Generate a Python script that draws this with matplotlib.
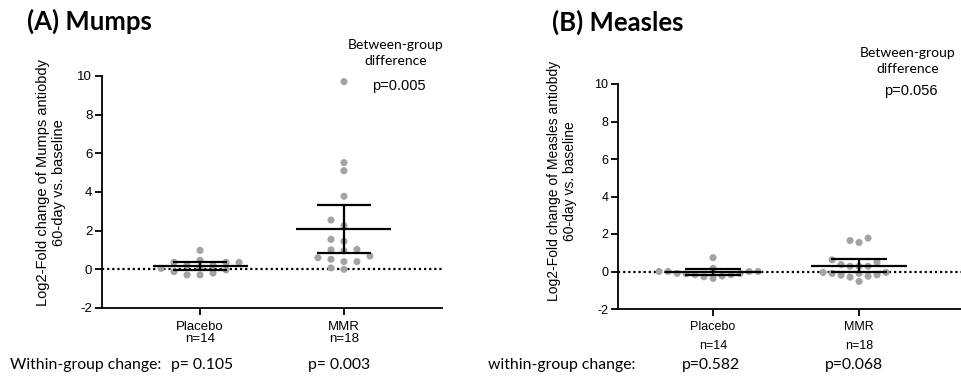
import numpy as np
import matplotlib.pyplot as plt

# === Daten ===
groups = ['Placebo', 'MMR']
n_labels = ['n=14', 'n=18']

mumps_placebo = [0.36, 0.47, 0.09, -0.29, 0.36, -0.03, 0.98, 0.21, -0.19,
                 0.21, -0.12, 0.36, -0.29, 0.05]
mumps_mmr = [9.71, 5.52, 5.10, 3.78, 2.55, 2.26, 1.55, 1.45, 1.03, 0.95,
             1.00, 0.69, 0.60, 0.40, 0.52, 0.40, 0.00, 0.07]

measles_placebo = [-0.17, 0.0, 0.0, 0.0, 0.17, -0.37, 0.0, 0.74, -0.24,
                   -0.12, -0.28, -0.1, -0.1, -0.17]
measles_mmr = [1.65, 1.55, 1.78, -0.18, 0.37, -0.05, 0.28, -0.1, -0.53, 0.28,
               -0.2, 0.62, -0.3, 0.28, -0.25, 0.5, -0.05, -0.1]

# zweiseitige 95%-t-Werte fuer n=14 und n=18
t_crit = {14: 2.160, 18: 2.110}

within_mumps = ['p= 0.105', 'p= 0.003']
within_measles = ['p=0.582', 'p=0.068']
between_mumps = 'p=0.005'
between_measles = 'p=0.056'

yticks = [-2, 0, 2, 4, 6, 8, 10]

W, H = 962, 377
ARIAL = 'Liberation Sans'
CALIBRI = 'Lato'
DOT = '#a3a3a3'

fig = plt.figure(figsize=(W / 100, H / 100), dpi=100)


def px(x, y):
    return x / W, 1 - y / H


def swarm(ax, xc, vals, dot_px=7.0, step_px=13.0):
    # einfache Beeswarm-Anordnung in Pixelkoordinaten
    vals = np.asarray(vals, float)
    t = ax.transData
    ppu = t.transform((1, 0))[0] - t.transform((0, 0))[0]
    placed = []
    xs = np.zeros(len(vals))
    cands = sorted(range(-12, 13), key=lambda k: (abs(k), k))
    for i in np.argsort(vals, kind='stable'):
        py = t.transform((xc, vals[i]))[1]
        for k in cands:
            pxx = k * step_px
            if all((pxx - qx) ** 2 + (py - qy) ** 2 >= dot_px ** 2 for qx, qy in placed):
                break
        placed.append((pxx, py))
        xs[i] = xc + pxx / ppu
    return xs


def panel(rect, xlim, data, ticksize, xlinesp, xpad, step):
    ax = fig.add_axes(rect)
    ax.set_xlim(*xlim)
    ax.set_ylim(-2, 10)
    for s in ['top', 'right']:
        ax.spines[s].set_visible(False)
    for s in ['left', 'bottom']:
        ax.spines[s].set_linewidth(1.3)
    ax.set_yticks(yticks)
    ax.set_yticklabels([str(v) for v in yticks], fontsize=ticksize, family=ARIAL)
    ax.set_xticks(range(len(groups)))
    ax.set_xticklabels([g + '\n' + n for g, n in zip(groups, n_labels)],
                       fontsize=ticksize, family=ARIAL, linespacing=xlinesp)
    ax.tick_params(length=5, width=1.3, pad=2)
    ax.tick_params(axis='x', pad=xpad)
    ax.axhline(0, color='black', lw=1.6, ls=(0, (1, 1.3)), zorder=1)

    for i, vals in enumerate(data):
        v = np.asarray(vals)
        xs = swarm(ax, i, v, step_px=step)
        ax.scatter(xs, v, s=26, color=DOT, edgecolors='none', zorder=2)
        m = v.mean()
        ci = t_crit[len(v)] * v.std(ddof=1) / np.sqrt(len(v))
        ax.hlines(m, i - 0.33, i + 0.33, color='black', lw=1.6, zorder=3)
        ax.vlines(i, m - ci, m + ci, color='black', lw=1.6, zorder=3)
        ax.hlines([m - ci, m + ci], i - 0.19, i + 0.19, color='black', lw=1.6, zorder=3)
    return ax


axA = panel([102 / W, (H - 308) / H, 340 / W, 232 / H], (-0.681, 1.681),
            [mumps_placebo, mumps_mmr], 9.5, 1.1, 4, 13)
axB = panel([618 / W, (H - 309) / H, 344 / W, 225 / H], (-0.651, 1.705),
            [measles_placebo, measles_mmr], 9, 1.7, 4, 9)

# Achsenbeschriftungen
fig.text(*px(51, 183), 'Log2-Fold change of Mumps antiobdy\n60-day vs. baseline',
         rotation=90, ha='center', va='center', fontsize=10.5, family=ARIAL,
         linespacing=1.2)
fig.text(*px(562, 181), 'Log2-Fold change of Measles antiobdy\n60-day vs. baseline',
         rotation=90, ha='center', va='center', fontsize=10, family=ARIAL,
         linespacing=1.25)

# Titel
fig.text(*px(27, 21), '(A) Mumps', fontsize=18.5, weight='bold', family=CALIBRI,
         ha='left', va='center')
fig.text(*px(552, 22), '(B) Measles', fontsize=18.5, weight='bold', family=CALIBRI,
         ha='left', va='center')

# Between-group
fig.text(*px(396, 53), 'Between-group\ndifference', fontsize=10, family=CALIBRI,
         ha='center', va='center', linespacing=1.35)
fig.text(*px(399, 86), between_mumps, fontsize=10.5, family=ARIAL,
         ha='center', va='center')
fig.text(*px(908, 61), 'Between-group\ndifference', fontsize=10, family=CALIBRI,
         ha='center', va='center', linespacing=1.35)
fig.text(*px(911, 91), between_measles, fontsize=10.5, family=ARIAL,
         ha='center', va='center')

# Within-group
fig.text(*px(10, 365), 'Within-group change:', fontsize=11.3, family=CALIBRI,
         ha='left', va='center')
for xc, s in zip([202, 339], within_mumps):
    fig.text(*px(xc, 365), s, fontsize=11.3, family=CALIBRI, ha='center', va='center')
fig.text(*px(488, 365), 'within-group change:', fontsize=11.3, family=CALIBRI,
         ha='left', va='center')
for xc, s in zip([711, 854], within_measles):
    fig.text(*px(xc, 365), s, fontsize=11.3, family=CALIBRI, ha='center', va='center')

fig.savefig('out.png', dpi=100)
